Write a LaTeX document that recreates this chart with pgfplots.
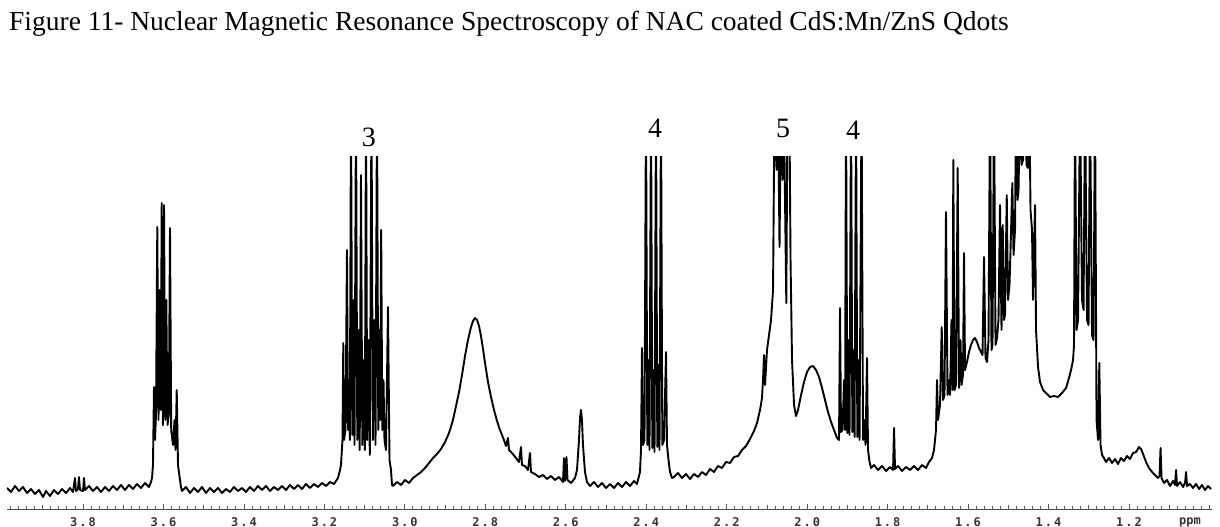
\documentclass[border=0pt]{standalone}
\usepackage{fontspec}
\setmainfont{Liberation Serif}
\newfontfamily\tickfont{DejaVu Sans Mono}
\usepackage{pgfplots}
\pgfplotsset{compat=1.18}
\begin{document}
\begin{tikzpicture}[x=1pt,y=1pt]
\path[use as bounding box] (0,0) rectangle (1220,527);
\node[anchor=base west, inner sep=0pt, font=\fontsize{27.5}{32}\selectfont] at (9,496)
  {Figure 11- Nuclear Magnetic Resonance Spectroscopy of NAC coated CdS:Mn/ZnS Qdots};
\begin{axis}[
  at={(7pt,17pt)}, anchor=south west,
  scale only axis, width=1205pt, height=353pt,
  xmin=0.9937, xmax=3.9889, ymin=0, ymax=353,
  x dir=reverse,
  axis x line*=bottom, axis y line=none,
  x axis line style={black!70, line width=1pt},
  xtick align=inside,
  major tick length=6pt, minor tick length=3.5pt,
  every tick/.style={black!65, line width=0.8pt},
  xtick={1.2,1.4,1.6,1.8,2.0,2.2,2.4,2.6,2.8,3.0,3.2,3.4,3.6,3.8},
  xticklabels={1\,.\,2,1\,.\,4,1\,.\,6,1\,.\,8,2\,.\,0,2\,.\,2,2\,.\,4,2\,.\,6,2\,.\,8,3\,.\,0,3\,.\,2,3\,.\,4,3\,.\,6,3\,.\,8},
  extra x ticks={1.0,1.1,1.3,1.5,1.7,1.9,2.1,2.3,2.5,2.7,2.9,3.1,3.3,3.5,3.7,3.9},
  extra x tick labels={},
  extra x tick style={major tick length=5pt},
  minor xtick={1.02,1.04,1.06,1.08,1.12,1.14,1.16,1.18,1.22,1.24,1.26,1.28,1.32,1.34,1.36,1.38,1.42,1.44,1.46,1.48,1.52,1.54,1.56,1.58,1.62,1.64,1.66,1.68,1.72,1.74,1.76,1.78,1.82,1.84,1.86,1.88,1.92,1.94,1.96,1.98,2.02,2.04,2.06,2.08,2.12,2.14,2.16,2.18,2.22,2.24,2.26,2.28,2.32,2.34,2.36,2.38,2.42,2.44,2.46,2.48,2.52,2.54,2.56,2.58,2.62,2.64,2.66,2.68,2.72,2.74,2.76,2.78,2.82,2.84,2.86,2.88,2.92,2.94,2.96,2.98,3.02,3.04,3.06,3.08,3.12,3.14,3.16,3.18,3.22,3.24,3.26,3.28,3.32,3.34,3.36,3.38,3.42,3.44,3.46,3.48,3.52,3.54,3.56,3.58,3.62,3.64,3.66,3.68,3.72,3.74,3.76,3.78,3.82,3.84,3.86,3.88,3.92,3.94,3.96,3.98},
  xticklabel style={font=\tickfont\bfseries\fontsize{12}{14}\selectfont, text=black!80, anchor=center, yshift=-12pt},
  clip mode=individual,
]
\addplot[black, line width=1.9pt, line join=round, mark=none] table {
x y
3.9889 22
3.9790 18
3.9690 24
3.9591 19
3.9491 23
3.9392 17
3.9292 21
3.9193 16
3.9094 20
3.8994 13
3.8920 19
3.8820 14
3.8721 20
3.8621 16
3.8522 21
3.8422 17
3.8323 22
3.8248 18
3.8199 32
3.8174 19
3.8124 21
3.8099 33
3.8074 20
3.8000 19
3.7975 32
3.7950 20
3.7851 24
3.7751 19
3.7652 23
3.7552 18
3.7453 23
3.7353 19
3.7254 24
3.7154 20
3.7055 25
3.6956 20
3.6856 25
3.6757 21
3.6657 26
3.6558 22
3.6458 27
3.6359 23
3.6309 28
3.6284 32
3.6260 45
3.6235 123
3.6210 70
3.6185 95
3.6153 283
3.6123 90
3.6093 220
3.6068 100
3.6043 307
3.6016 85
3.5986 305
3.5956 90
3.5929 210
3.5899 85
3.5867 95
3.5837 282
3.5807 80
3.5762 65
3.5725 90
3.5700 60
3.5670 120
3.5638 45
3.5613 37
3.5588 30
3.5564 23
3.5539 19
3.5439 23
3.5340 17
3.5240 22
3.5141 18
3.5042 23
3.4943 17
3.4843 22
3.4744 18
3.4645 22
3.4545 17
3.4446 21
3.4346 18
3.4247 23
3.4147 19
3.4048 22
3.3949 18
3.3849 23
3.3750 19
3.3650 24
3.3551 20
3.3451 24
3.3352 19
3.3253 23
3.3153 20
3.3054 24
3.2954 20
3.2855 25
3.2755 21
3.2656 25
3.2556 21
3.2457 26
3.2357 22
3.2258 26
3.2159 23
3.2059 27
3.1960 24
3.1860 28
3.1761 26
3.1661 32
3.1612 40
3.1587 45
3.1550 70
3.1530 167
3.1512 70
3.1475 80
3.1438 260
3.1413 80
3.1388 130
3.1368 70
3.1338 410
3.1306 75
3.1276 210
3.1251 65
3.1214 410
3.1182 70
3.1147 180
3.1122 60
3.1090 335
3.1057 65
3.1020 150
3.0995 60
3.0965 410
3.0936 70
3.0903 170
3.0871 55
3.0829 410
3.0796 70
3.0759 190
3.0729 65
3.0692 410
3.0660 80
3.0635 180
3.0612 90
3.0588 280
3.0560 80
3.0530 130
3.0506 70
3.0468 60
3.0419 203
3.0381 50
3.0344 40
3.0319 25
3.0294 24
3.0195 28
3.0095 25
2.9996 30
2.9896 27
2.9797 32
2.9697 35
2.9598 38
2.9499 42
2.9399 47
2.9300 52
2.9200 56
2.9101 61
2.9001 68
2.8902 77
2.8803 90
2.8728 104
2.8653 118
2.8579 135
2.8504 154
2.8430 170
2.8355 183
2.8305 189
2.8256 192
2.8206 190
2.8156 184
2.8107 174
2.8057 161
2.8007 147
2.7933 128
2.7858 113
2.7783 100
2.7709 89
2.7635 80
2.7536 70
2.7486 64
2.7436 72
2.7411 60
2.7337 57
2.7237 52
2.7163 48
2.7113 63
2.7088 45
2.7014 44
2.6939 40
2.6889 57
2.6864 38
2.6765 36
2.6666 33
2.6566 35
2.6467 31
2.6367 34
2.6268 30
2.6168 33
2.6069 28
2.6044 52
2.6019 29
2.5982 53
2.5957 30
2.5870 27
2.5771 32
2.5721 40
2.5671 70
2.5646 92
2.5622 100
2.5597 90
2.5572 65
2.5522 38
2.5472 28
2.5398 24
2.5298 28
2.5199 23
2.5099 27
2.5000 22
2.4900 26
2.4801 22
2.4702 27
2.4602 23
2.4503 28
2.4403 24
2.4304 29
2.4229 26
2.4155 38
2.4130 60
2.4105 162
2.4080 65
2.4043 70
2.4006 410
2.3973 65
2.3943 150
2.3919 60
2.3881 410
2.3849 62
2.3819 140
2.3794 58
2.3757 410
2.3725 63
2.3695 145
2.3670 60
2.3633 410
2.3600 65
2.3558 70
2.3508 158
2.3484 65
2.3446 50
2.3409 38
2.3359 32
2.3310 33
2.3210 37
2.3111 32
2.3011 36
2.2912 31
2.2812 36
2.2713 33
2.2613 38
2.2514 35
2.2414 41
2.2315 38
2.2216 44
2.2116 42
2.2017 48
2.1917 47
2.1818 53
2.1718 54
2.1619 60
2.1520 64
2.1420 71
2.1321 79
2.1246 87
2.1172 100
2.1122 112
2.1097 130
2.1072 155
2.1047 125
2.0998 160
2.0948 175
2.0898 190
2.0848 220
2.0811 410
2.0761 340
2.0724 410
2.0687 263
2.0650 410
2.0612 330
2.0582 410
2.0550 310
2.0518 207
2.0488 410
2.0443 410
2.0413 250
2.0376 150
2.0326 105
2.0277 94
2.0227 100
2.0152 115
2.0078 128
2.0003 138
1.9928 143
1.9854 144
1.9779 140
1.9705 133
1.9630 122
1.9556 110
1.9481 98
1.9406 88
1.9332 80
1.9257 72
1.9208 70
1.9183 202
1.9158 78
1.9121 80
1.9083 130
1.9058 80
1.9034 410
1.9001 77
1.8971 170
1.8947 75
1.8909 410
1.8877 78
1.8847 160
1.8822 73
1.8785 410
1.8753 73
1.8723 150
1.8698 70
1.8648 410
1.8611 70
1.8574 90
1.8549 65
1.8512 152
1.8487 60
1.8449 48
1.8412 42
1.8338 45
1.8238 40
1.8139 44
1.8039 39
1.7940 43
1.7865 40
1.7840 82
1.7816 41
1.7741 44
1.7642 39
1.7543 43
1.7443 40
1.7344 44
1.7245 40
1.7145 45
1.7046 42
1.6971 48
1.6897 52
1.6847 60
1.6822 70
1.6797 80
1.6772 130
1.6747 90
1.6698 105
1.6655 183
1.6623 110
1.6586 115
1.6549 298
1.6511 115
1.6474 130
1.6449 115
1.6412 190
1.6387 120
1.6367 350
1.6337 120
1.6300 125
1.6258 342
1.6225 122
1.6188 170
1.6163 125
1.6126 135
1.6101 257
1.6076 140
1.6027 148
1.5977 158
1.5927 165
1.5877 170
1.5828 172
1.5778 168
1.5728 162
1.5679 158
1.5641 155
1.5604 253
1.5567 152
1.5529 148
1.5492 170
1.5455 410
1.5418 160
1.5393 165
1.5355 410
1.5318 165
1.5281 172
1.5244 190
1.5206 305
1.5169 180
1.5139 285
1.5107 190
1.5082 195
1.5039 315
1.5007 210
1.4970 225
1.4945 260
1.4900 327
1.4870 255
1.4833 280
1.4808 410
1.4771 310
1.4746 320
1.4709 410
1.4672 345
1.4634 350
1.4585 410
1.4547 345
1.4510 342
1.4478 410
1.4448 300
1.4411 280
1.4386 210
1.4336 305
1.4311 180
1.4261 143
1.4212 128
1.4137 120
1.4063 117
1.3963 113
1.3864 114
1.3764 113
1.3665 117
1.3565 122
1.3491 132
1.3441 140
1.3391 150
1.3367 165
1.3342 410
1.3304 180
1.3267 190
1.3217 410
1.3168 210
1.3130 200
1.3093 410
1.3043 190
1.3006 185
1.2969 410
1.2919 175
1.2882 170
1.2845 410
1.2807 90
1.2770 70
1.2738 147
1.2708 65
1.2670 55
1.2621 52
1.2571 48
1.2496 52
1.2422 47
1.2347 51
1.2273 46
1.2198 52
1.2123 49
1.2049 54
1.1974 51
1.1900 57
1.1825 58
1.1751 63
1.1701 61
1.1651 56
1.1577 48
1.1502 42
1.1427 38
1.1353 35
1.1278 32
1.1241 34
1.1216 62
1.1191 32
1.1129 27
1.1055 30
1.0980 24
1.0905 29
1.0856 25
1.0831 40
1.0806 24
1.0731 28
1.0657 23
1.0607 27
1.0582 38
1.0557 24
1.0483 26
1.0408 22
1.0334 26
1.0259 21
1.0185 25
1.0111 20
1.0036 24
0.9962 21
};
\node[font=\fontsize{28}{32}\selectfont] at (axis cs:3.0891,373) {3};
\node[font=\fontsize{28}{32}\selectfont] at (axis cs:2.3782,382) {4};
\node[font=\fontsize{28}{32}\selectfont] at (axis cs:2.0600,382) {5};
\node[font=\fontsize{28}{32}\selectfont] at (axis cs:1.8860,380) {4};
\node[font=\tickfont\bfseries\fontsize{12}{14}\selectfont, text=black!80, anchor=center] at (axis cs:1.0483,0) [yshift=-12pt] {ppm};
\end{axis}
\end{tikzpicture}
\end{document}
